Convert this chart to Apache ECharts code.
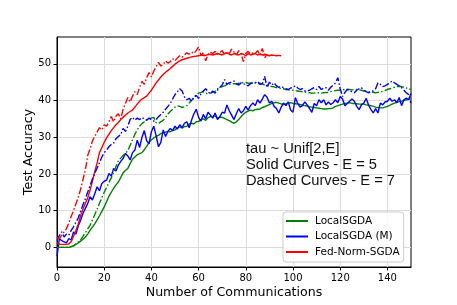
<!DOCTYPE html>
<html><head><meta charset="utf-8">
<script src="https://cdn.jsdelivr.net/npm/echarts@6/dist/echarts.min.js"></script>
<style>html,body{margin:0;padding:0;background:#fff}#c{width:457px;height:305px}</style>
</head><body><div id="c"></div>
<script>
const xTicks=[0,20,40,60,80,100,120,140];
const yTicks=[0,10,20,30,40,50];
const seriesNames=['LocalSGDA','LocalSGDA (M)','Fed-Norm-SGDA'];
const noteLines=['tau ~ Unif[2,E]','Solid Curves - E = 5','Dashed Curves - E = 7'];

// LocalSGDA, E=5 (solid) — value per communication round 0..150
const greenSolid=[
0,0,0,0,0,0,0.2,0.4,0.8,1.2,
1.7,2.2,2.8,3.6,4.6,5.5,6.4,7.5,8.6,9.8,
11,12.4,13.9,15,16.1,17,17.8,19,20.3,20.9,
21.5,22.8,24,24.6,25.2,25.5,25.8,26.6,27.5,28.6,
29.3,29.8,30.2,30.5,31,31.2,31.4,31.6,31.5,31.8,
32,32.6,32.8,32.5,32.9,33,33.6,33.8,33.6,34.2,
34.3,34.8,35,34.6,35.3,35.7,35.6,35.8,35.2,35.5,
35.4,35.1,34.8,34.5,34.1,33.8,34.2,34.8,35.6,36.3,
36.8,37.1,37.4,37.2,37.5,37.6,37.7,38.1,38.3,38.6,
38.9,39.2,39.4,39.5,39.3,39.1,38.9,39.1,39.3,39.4,
39.2,39.1,39,38.9,38.7,38.6,38.5,38.3,38.2,38.1,
38,37.9,37.8,37.7,37.7,37.8,37.8,38,38.4,38.6,
38.8,39,39.2,39.3,39.4,39.2,39.2,39.1,39,39,
39,38.8,38.7,38.6,38.4,38.2,38.1,38,38,38.2,
38.4,38.7,39,39.3,39.5,39.7,39.8,40,40.2,40.3,
40.5];
// LocalSGDA, E=7 (dash-dot)
const greenDash=[
0,0,0,0,0,0.1,0.2,0.4,0.9,1.4,
2,3,4,5,6,7.4,8.9,10.4,12,13.5,
15,16.3,17.6,19,20.4,22,23.6,24.3,25,25.6,
26.3,27.8,29.3,30.8,32,33,33.7,34.2,34.8,35,
35.2,35.4,34,33.8,34.2,34.6,35.4,36.3,37,37.6,
38.2,38.5,38.4,38.1,38.3,38.6,39.3,40,40.8,41.5,
42,42.2,42.4,42,41.8,42,42.3,42.5,43.2,43.5,
43.8,44,44.3,44.4,44.5,44.6,44.5,44.7,44.8,44.9,
44.9,44.7,44.8,45,44.8,44.6,44.7,44.5,44.3,44.2,
44,43.8,43.7,43.5,43.4,43.3,43.2,43,42.9,42.9,
42.8,42.7,42.6,42.5,42.4,42.3,42.2,42.1,42,42,
42.1,42.1,42,42.1,42.2,42.2,42.4,42.6,42.7,42.8,
42.8,42.9,43,43.1,43,42.9,43,43,42.9,42.8,
42.6,42.5,42.4,42.3,42.2,42.1,42.2,42.3,42.5,42.7,
43,43.2,43.4,43.6,43.8,43.9,43.8,43.6,43.4,43.2,
43];
// LocalSGDA (M), E=5 (solid)
const blueSolid=[
-2.4,2.4,1.8,1.5,1.2,2.4,2,4.2,3.6,5.8,
7.4,9.2,10.6,11.9,13.8,12.9,14.6,16.5,15.4,17.4,
18,18.3,20.1,19.4,21.5,20.8,22.4,23.4,24.2,25.6,
24.9,23.8,25.8,26.5,29.2,27.2,30,31.8,29,28.2,
31.5,33,30.4,27.4,28.6,32,30.2,31.6,32.4,31.8,
33,32.2,33.4,32.6,33.8,34.2,32.6,34.6,36.4,37.6,
35.4,34.4,36.2,35,36.8,36,35.2,36.6,34.8,35.6,
36.8,36.6,38.8,37.2,36,34.8,36.4,37.8,36.6,37.2,
38.4,37.4,38.6,39.3,38.6,40.2,39.3,40.4,41.6,40.9,
39.3,39.8,38.4,37.8,36.6,38.2,39.3,38.6,39.6,37.4,
36.8,40.8,39.2,38.2,38.6,39.6,38.8,37.8,36.8,39.2,
38.6,40.2,39.4,40.2,38.8,39.6,38.9,39.4,40.2,39.4,
41.1,40.4,38.6,39.2,39.8,40.4,39.8,38.4,37.5,38.8,
39.3,40.6,38.8,37.6,36.6,37.8,36.6,39.3,38.8,39.6,
39.8,40.6,39.8,40.2,39.4,40.8,38.6,40.2,40.7,40.2,
42];
// LocalSGDA (M), E=7 (dash-dot)
const blueDash=[
1.8,3.2,4.2,2.8,3.6,3.3,4.6,5.6,6.8,8,
9.8,11.6,13.2,15,16.8,18.6,20.2,21.6,23,24.6,
25.8,26.5,27.4,28,28.4,29.6,30.2,30.7,32.4,31.6,
33,34.8,35.4,34.6,35.2,34.8,35.4,35,34.6,35.2,
34.8,34.4,34.8,35.6,36.2,36.8,37.6,38.4,39.2,40.4,
41.6,42.4,43.2,42.6,41,40.2,40.6,39.8,40.8,41.4,
40.6,41.8,42.6,43.2,42.4,41.8,42.6,42,42.8,43.6,
44.2,45.7,44.4,44.8,45,45.3,44.6,44.2,44.8,44.6,
44.2,44,44.6,44.8,44.8,45.2,44.4,44.6,46.6,43.5,
45,44.2,44.8,44,43.6,43.8,43.5,43.2,43,43.4,
43.6,44,43.4,43,43.2,42.6,42.6,42.8,43.2,43.5,
43,43.8,43,43.4,43.5,42.8,43.6,44.2,44.8,46.2,
43.2,41.1,42.2,43,42.6,42.4,42.1,42.8,43.2,43.5,
42.8,42.4,42.1,42.4,42.6,43.2,44.8,44.4,43.8,44,
44.4,44.8,45.3,44.8,44.4,44,43.5,42.8,42.1,41.6,
39.3];
// Fed-Norm-SGDA, E=5 (solid), rounds 0..95
const redSolid=[
1.2,0.8,0.8,0.8,0.8,0.9,1.5,3,4.6,6.3,
8.6,10.4,12,13.4,15.6,18,20.6,23,25.8,27.2,
28.6,29.8,30.8,31.8,32.6,33.4,34,34.8,35.4,36,
36.6,37,37.4,38.2,39,39.8,40.4,40.8,41.2,42,
42.8,43.8,44.8,45.6,46.4,47.1,47.7,48.2,48.7,49.3,
49.9,50.4,50.8,51.1,51.3,51.5,51.7,51.9,52,52.1,
52.2,52.3,52.4,52.3,52.5,52.6,52.4,52.6,52.8,52.6,
52.4,52.8,53,52.6,52.4,52.8,52.6,52.4,52.8,52.6,
52.2,52.8,52.4,52.6,52.8,52.4,52.6,52.4,52.6,52.4,
52.2,52.4,52.3,52.2,52.3,52.2];
// Fed-Norm-SGDA, E=7 (dash-dot), rounds 0..89
const redDash=[
2.6,2.4,3.3,4.2,5.1,6.6,8.4,10,11.8,13.6,
15.8,18.4,21,25,26.8,29,30.2,31.4,32.6,32,
33.4,33,34.2,35.6,34.2,35.8,36.4,35,37.6,39.2,
40.8,39.6,41.2,42.4,41.6,43.6,45.2,44.4,46.2,47.6,
46.4,48,49.2,50.4,49.4,49.8,50.8,50.2,50.6,51.4,
50.8,51.6,52.2,51.8,52.4,53,52.6,53.2,52.8,53.6,
54.6,52.2,53,50.8,52.6,53.2,52.8,53.4,52.6,53,
53.6,52.4,53.2,52.8,54,53.2,52.4,53.6,52.8,50.6,
52.8,53.4,52.6,53,52.8,53.6,52.4,54.2,51.6,52.6];

const FONT='"DejaVu Sans", sans-serif';
const dashDot=[7,2.2,1.5,2.2];
const GREEN='#008000', BLUE='#0000ff', RED='#ff0000';
function pairs(a){return a.map((v,i)=>[i,v]);}
function mk(name,arr,color,dashed){
  return {name:name,type:'line',data:pairs(arr),showSymbol:false,symbol:'none',
    animation:false,silent:true,itemStyle:{color:color},
    lineStyle:{color:color,width:1.4,type:dashed?dashDot:'solid'}};
}
const chart=echarts.init(document.getElementById('c'),null,{renderer:'canvas'});
chart.setOption({
  animation:false,
  backgroundColor:'#fff',
  grid:{left:57,right:46,top:37,bottom:38,show:true,borderColor:'#000',borderWidth:1,backgroundColor:'transparent'},
  xAxis:{type:'value',min:0,max:150,interval:20,
    axisLine:{onZero:false,lineStyle:{color:'#000',width:1}},
    axisTick:{customValues:xTicks,length:3.5,lineStyle:{color:'#000'}},
    axisLabel:{customValues:xTicks,fontFamily:FONT,fontSize:10,color:'#000',margin:6},
    splitLine:{show:true,lineStyle:{color:'#dcdcdc',width:1}},
    name:'Number of Communications',nameLocation:'middle',nameGap:19,nameMoveOverlap:false,
    nameTextStyle:{fontFamily:FONT,fontSize:12.6,color:'#000'}},
  yAxis:{type:'value',min:-5.36,max:57.3,
    axisLine:{show:true,onZero:false,lineStyle:{color:'#000',width:1}},
    axisTick:{show:true,customValues:yTicks,length:3.5,lineStyle:{color:'#000'}},
    axisLabel:{customValues:yTicks,fontFamily:FONT,fontSize:10,color:'#000',margin:6},
    splitLine:{show:true,lineStyle:{color:'#dcdcdc',width:1}},
    name:'Test Accuracy',nameLocation:'middle',nameGap:22,nameMoveOverlap:false,
    nameTextStyle:{fontFamily:FONT,fontSize:12.6,color:'#000'}},
  legend:{data:seriesNames,orient:'vertical',left:283,top:212,
    padding:[3,4,4,3],itemGap:3.5,itemWidth:22,itemHeight:2,icon:'rect',
    borderColor:'#cccccc',borderWidth:1,borderRadius:3,backgroundColor:'rgba(255,255,255,0.85)',
    selectedMode:false,
    textStyle:{fontFamily:FONT,fontSize:10.5,color:'#000',lineHeight:12,padding:[0,0,0,2]}},
  graphic:noteLines.map((t,i)=>({type:'text',left:246,top:141+i*16.3,z:10,
    style:{text:t,font:'14.7px "Liberation Sans", Arial, sans-serif',fill:'#111'}})),
  series:[
    mk(seriesNames[0],greenSolid,GREEN,false),
    mk(seriesNames[1],blueSolid,BLUE,false),
    mk(seriesNames[2],redSolid,RED,false),
    mk(seriesNames[0],greenDash,GREEN,true),
    mk(seriesNames[1],blueDash,BLUE,true),
    mk(seriesNames[2],redDash,RED,true)
  ]
});
</script></body></html>
